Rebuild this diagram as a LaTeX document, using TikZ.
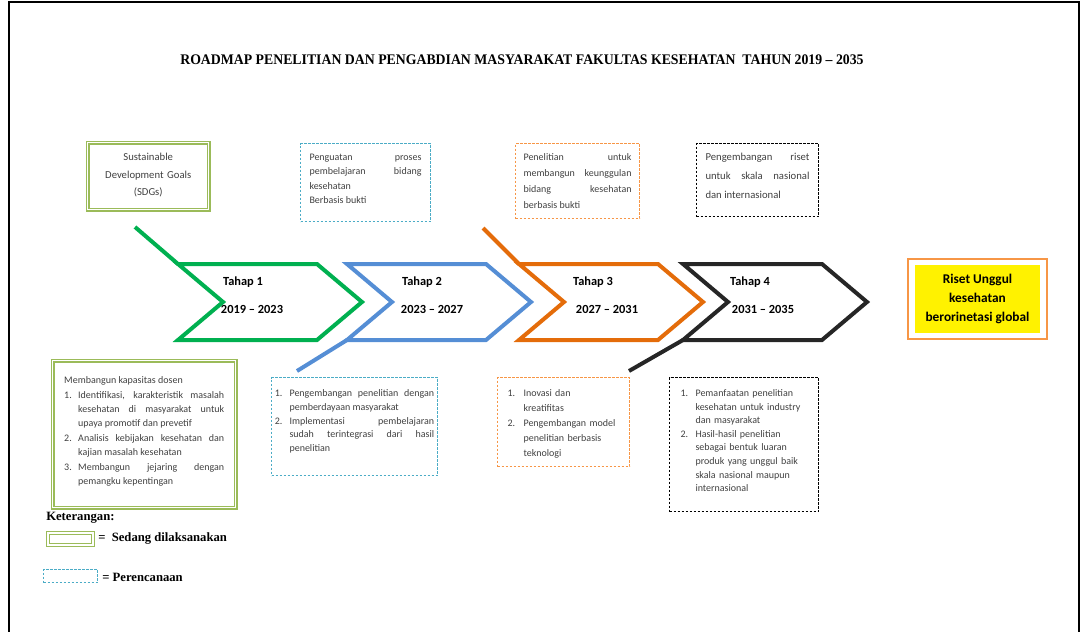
\documentclass[tikz,border=0pt]{standalone}
\usepackage{fontspec}
\setmainfont{Liberation Serif}
\setsansfont{Carlito}
\newfontfamily\titlefont[FakeStretch=0.94]{Liberation Serif}
\definecolor{cgreen}{RGB}{0,176,80}
\definecolor{cblue}{RGB}{85,142,213}
\definecolor{corange}{RGB}{228,108,10}
\definecolor{cdark}{RGB}{38,38,38}
\definecolor{lgreen}{RGB}{155,187,89}
\definecolor{planblue}{RGB}{75,172,198}
\definecolor{planorange}{RGB}{247,150,70}
\newcommand{\rmitem}[3][11pt]{\noindent\hangindent=#1\hangafter=1\makebox[#1][l]{#2.}#3\par}

\begin{document}
\begin{tikzpicture}[
    x=0.75pt, y=-0.75pt,
    chev/.style={
        line width=3pt
    },
    tahap/.style={
        font=\sffamily\bfseries\fontsize{9.3}{11}\selectfont
    },
    box/.style={
        anchor=north west, inner sep=0pt, text=black!75,
        font=\sffamily\fontsize{7.5}{10.8}\selectfont,
        execute at begin node={\hyphenpenalty=10000 \tolerance=10000 }
    },
    done/.style={
        draw=lgreen, line width=1.1pt,
        double=white, double distance=0.8pt
    },
    plan/.style={
        draw=planblue, line width=0.8pt,
        dash pattern=on 2pt off 1pt
    },
    legend/.style={
        anchor=west, inner sep=0pt,
        font=\bfseries\fontsize{9.5}{11}\selectfont
    }
]
    \useasboundingbox (0,0) rectangle (1083,632);
    \draw[line width=1.5pt] (9,632) -- (9,2) -- (1079,2) -- (1079,632);

    \node[font=\titlefont\bfseries\fontsize{11}{13}\selectfont] (title) at (522,60)
        {ROADMAP PENELITIAN DAN PENGABDIAN MASYARAKAT FAKULTAS KESEHATAN \ TAHUN 2019 – 2035};

    % tahap
    \foreach \x/\c in {178/cgreen, 347/cblue, 519/corange, 683/cdark}
        \draw[chev, draw=\c] (\x,264) -- ({\x+45},302) -- (\x,340) -- ({\x+139},340)
            -- ({\x+184},302) -- ({\x+139},264) -- cycle;
    \coordinate (gtail) at (135,227);
    \coordinate (btail) at (297,371);
    \coordinate (otail) at (483,228);
    \coordinate (ktail) at (629,371);
    \draw[chev, cgreen] (gtail) -- (178,264);
    \draw[chev, cblue] (347,340) -- (btail);
    \draw[chev, corange] (otail) -- (519,264);
    \draw[chev, cdark] (683,340) -- (ktail);
    \foreach \i/\tx/\yx/\a/\b in {1/243/252/2019/2023, 2/422/432/2023/2027,
                                  3/593/607/2027/2031, 4/750/763/2031/2035} {
        \node[tahap] (tahap\i) at (\tx,282) {Tahap \i};
        \node[tahap] (years\i) at (\yx,309) {\a\ -- \b};
    }

    % atas
    \node[box, done, align=center, minimum width=90.75pt, text width=80pt,
          text height=13.5pt, text depth=36.75pt,
          font=\sffamily\fontsize{8}{13}\selectfont] (sdg) at (87,142)
        {Sustainable\\ Development Goals\\ (SDGs)};
    \node[box, plan, align=justify, minimum width=97.5pt, text width=84pt,
          text height=12.75pt, text depth=45.75pt] (plan1) at (300,143)
        {Penguatan proses\linebreak pembelajaran bidang\linebreak kesehatan\\ Berbasis bukti};
    \node[box, plan, draw=planorange, align=justify, minimum width=93pt, text width=81pt,
          text height=12.75pt, text depth=43.5pt,
          font=\sffamily\fontsize{7.5}{12}\selectfont] (pen1) at (515,143)
        {Penelitian untuk\linebreak membangun keunggulan\linebreak bidang kesehatan\linebreak berbasis bukti};
    \node[box, plan, draw=black, align=justify, minimum width=91.5pt, text width=78pt,
          text height=12.75pt, text depth=42pt,
          font=\sffamily\fontsize{8}{14.25}\selectfont] (dev1) at (696,143)
        {Pengembangan riset\linebreak untuk skala nasional\linebreak dan internasional};

    % bawah
    \node[box, done, align=justify, minimum width=137.25pt, text width=120pt,
          text height=17.25pt, text depth=93pt] (cap) at (52,360)
        {Membangun kapasitas dosen\par
         \rmitem[10.5pt]{1}{Identifikasi, karakteristik masalah\linebreak kesehatan di masyarakat untuk\linebreak upaya promotif dan prevetif}
         \rmitem[10.5pt]{2}{Analisis kebijakan kesehatan dan\linebreak kajian masalah kesehatan}
         \rmitem[10.5pt]{3}{Membangun jejaring dengan\linebreak pemangku kepentingan}};
    \node[box, plan, align=justify, minimum width=124.5pt, text width=119.5pt,
          text height=14.25pt, text depth=59.25pt,
          font=\sffamily\fontsize{7.5}{10.3}\selectfont] (plan2) at (271,377)
        {\rmitem{1}{Pengembangan penelitian dengan\linebreak pemberdayaan masyarakat}
         \rmitem{2}{Implementasi pembelajaran\linebreak sudah terintegrasi dari hasil\linebreak penelitian}};
    \node[box, plan, draw=planorange, align=left, minimum width=99pt, text width=84pt,
          text height=14.25pt, text depth=52.5pt,
          font=\sffamily\fontsize{7.5}{11.25}\selectfont] (pen2) at (497,377)
        {\rmitem[12pt]{1}{Inovasi dan\linebreak kreatifitas}
         \rmitem[12pt]{2}{Pengembangan model\linebreak penelitian berbasis\linebreak teknologi}};
    \node[box, plan, draw=black, align=left, minimum width=111.75pt, text width=95.25pt,
          text height=14.25pt, text depth=86.25pt,
          font=\sffamily\fontsize{7.5}{10.2}\selectfont] (dev2) at (669,377)
        {\rmitem[11.25pt]{1}{Pemanfaatan penelitian\linebreak kesehatan untuk industry\linebreak dan masyarakat}
         \rmitem[11.25pt]{2}{Hasil-hasil penelitian\linebreak sebagai bentuk luaran\linebreak produk yang unggul baik\linebreak skala nasional maupun\linebreak internasional}};

    % tujuan
    \node[draw=planorange, line width=1.5pt, minimum width=104.25pt, minimum height=60pt]
        (goalframe) at (977.5,299) {};
    \node[fill=yellow, minimum width=93.75pt, minimum height=51pt, align=center,
          font=\sffamily\bfseries\fontsize{10}{14}\selectfont] (goal) at (goalframe.center)
        {Riset Unggul\\ kesehatan\\ berorinetasi global};

    % keterangan
    \node[legend] (ket) at (46,518) {Keterangan:};
    \node[done, minimum width=33.75pt, minimum height=9pt, inner sep=0pt] (donekey) at (70.5,539) {};
    \node[legend] (donetext) at (98,538) {= \ Sedang dilaksanakan};
    \node[plan, minimum width=40.5pt, minimum height=9.75pt, inner sep=0pt] (plankey) at (70.5,576) {};
    \node[legend] (plantext) at (102,577) {= Perencanaan};
\end{tikzpicture}
\end{document}
